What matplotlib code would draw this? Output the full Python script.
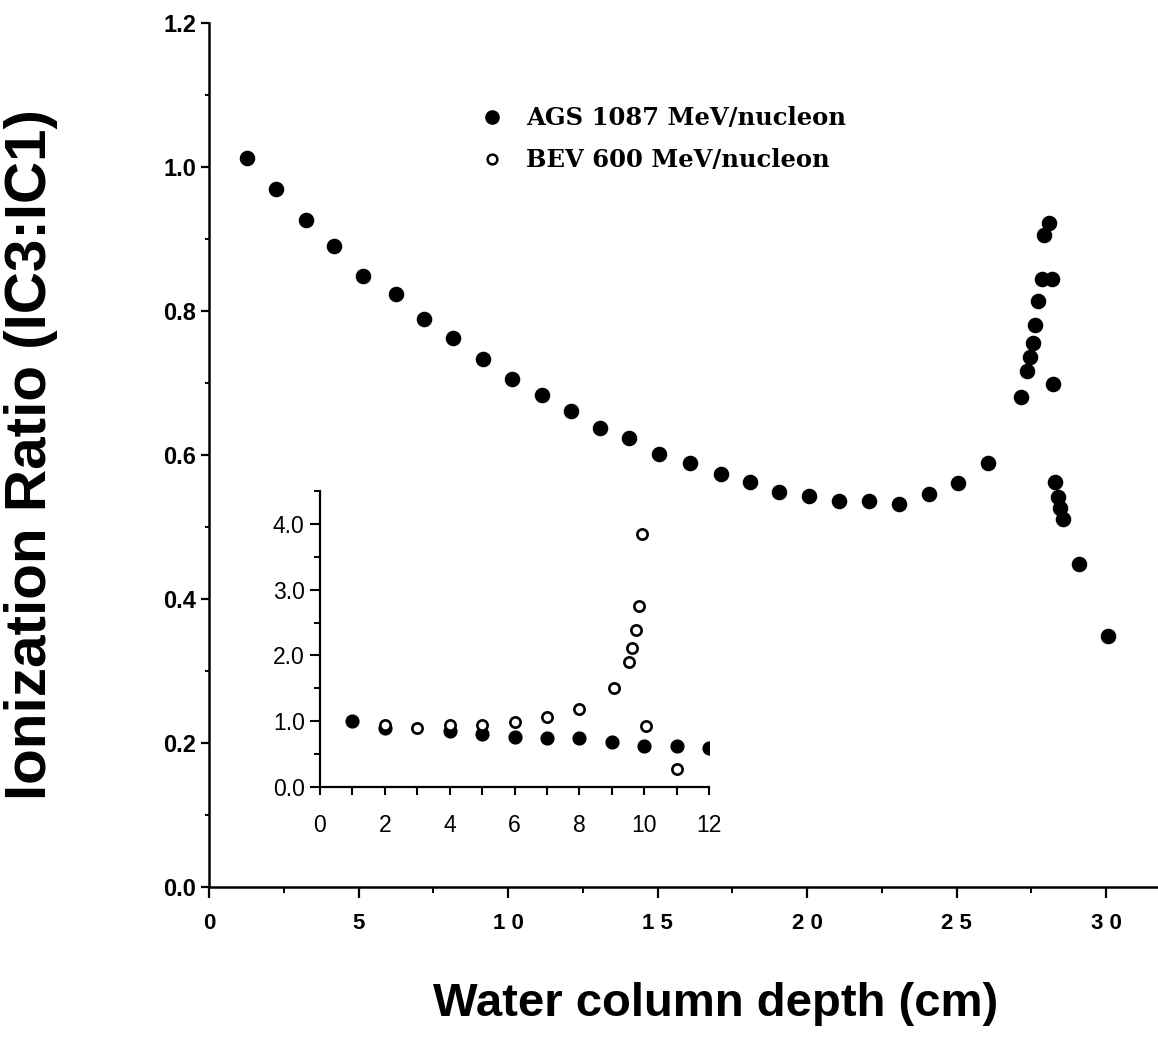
import matplotlib
matplotlib.use("Agg")
import matplotlib.pyplot as plt
from matplotlib.ticker import MultipleLocator
from matplotlib.lines import Line2D

# ---------------- data ----------------
ags_depth = [1.26, 2.24, 3.23, 4.19, 5.16, 6.24, 7.20, 8.17, 9.15, 10.14, 11.15, 12.12,
             13.09, 14.06, 15.05, 16.09, 17.11, 18.09, 19.07, 20.07, 21.07, 22.08, 23.07,
             24.07, 25.06, 26.06, 27.17, 27.37, 27.46, 27.55, 27.63, 27.74, 27.85, 27.93,
             28.10, 28.20, 28.24, 28.30, 28.38, 28.46, 28.56, 29.09, 30.08]
ags_ratio = [1.013, 0.969, 0.927, 0.890, 0.849, 0.823, 0.789, 0.7625, 0.733, 0.706, 0.683,
             0.661, 0.6375, 0.6235, 0.601, 0.589, 0.574, 0.563, 0.548, 0.543, 0.536, 0.536,
             0.532, 0.546, 0.561, 0.589, 0.680, 0.717, 0.736, 0.755, 0.781, 0.814, 0.844,
             0.906, 0.922, 0.844, 0.698, 0.563, 0.541, 0.526, 0.511, 0.449, 0.349]

inset_ags_depth = [1, 2, 4, 5, 6, 7, 8, 9, 10, 11, 12]
inset_ags_ratio = [1.00, 0.90, 0.85, 0.80, 0.76, 0.74, 0.74, 0.69, 0.62, 0.62, 0.59]

inset_bev_depth = [2, 3, 4, 5, 6, 7, 8, 9.07, 9.54, 9.63, 9.75, 9.83, 9.94, 10.07, 11.02]
inset_bev_ratio = [0.94, 0.90, 0.95, 0.95, 0.99, 1.06, 1.18, 1.51, 1.90, 2.11, 2.39, 2.75,
                   3.85, 0.92, 0.28]

main_xticks = [0, 5, 10, 15, 20, 25, 30]
main_xticklabels = ["0", "5", "1 0", "1 5", "2 0", "2 5", "3 0"]
main_yticks = [0.0, 0.2, 0.4, 0.6, 0.8, 1.0, 1.2]
main_yticklabels = ["0.0", "0.2", "0.4", "0.6", "0.8", "1.0", "1.2"]
inset_xticks = [0, 2, 4, 6, 8, 10, 12]
inset_yticks = [0, 1, 2, 3, 4]
inset_yticklabels = ["0.0", "1.0", "2.0", "3.0", "4.0"]

legend_labels = ["AGS 1087 MeV/nucleon", "BEV 600 MeV/nucleon"]
xlabel = "Water column depth (cm)"
ylabel = "Ionization Ratio (IC3:IC1)"

# ---------------- figure ----------------
W, H = 1158, 1048
fig = plt.figure(figsize=(W / 100, H / 100), dpi=100)
fig.patch.set_facecolor("white")

sans = ["Liberation Sans", "DejaVu Sans"]

ax = fig.add_axes([209 / W, 1 - 887 / H, (W - 209) / W, (887 - 23) / H])
ax.set_xlim(0, (W - 209) / 29.9)
ax.set_ylim(0, 1.2)
for s in ["top", "right"]:
    ax.spines[s].set_visible(False)
for s in ["left", "bottom"]:
    ax.spines[s].set_linewidth(1.8)

ax.plot(ags_depth, ags_ratio, "o", color="black", ms=10.2, mec="black", zorder=3)

ax.set_xticks(main_xticks)
ax.set_xticklabels(main_xticklabels, fontsize=16, fontweight="bold", family=sans)
ax.xaxis.set_minor_locator(MultipleLocator(2.5))
ax.set_yticks(main_yticks)
ax.set_yticklabels(main_yticklabels, fontsize=17, fontweight="bold", family=sans)
ax.yaxis.set_minor_locator(MultipleLocator(0.1))
ax.tick_params(axis="x", which="major", direction="out", length=8, width=1.6, pad=11)
ax.tick_params(axis="x", which="minor", direction="out", length=4.5, width=1.4)
ax.tick_params(axis="y", which="major", direction="out", length=6, width=1.6, pad=3)
ax.tick_params(axis="y", which="minor", direction="out", length=3, width=1.4)

ax.set_xlabel(xlabel, fontsize=34, fontweight="bold", family=sans)
ax.xaxis.set_label_coords((716 - 209) / 949, (887 - 982) / 864)
ax.set_ylabel(ylabel, fontsize=42, fontweight="bold", family=sans)
ax.yaxis.set_label_coords((58 - 209) / 949, (887 - 455) / 864)

handles = [
    Line2D([], [], ls="none", marker="o", ms=9.5, color="black", mec="black"),
    Line2D([], [], ls="none", marker="o", ms=7, mfc="white", mec="black", mew=1.8),
]
fig.legend(handles, legend_labels, loc="upper left",
           bbox_to_anchor=(468 / W, 1 - 94 / H), frameon=False, borderpad=0,
           handlelength=1.0, handletextpad=0.9, labelspacing=0.75,
           prop={"family": "DejaVu Serif", "weight": "bold", "size": 17.5})

# ---------------- inset ----------------
axin = fig.add_axes([320 / W, 1 - 787 / H, 389 / W, 296 / H])
axin.set_xlim(0, 12)
axin.set_ylim(0, 4.5)
for s in ["top", "right"]:
    axin.spines[s].set_visible(False)
for s in ["left", "bottom"]:
    axin.spines[s].set_linewidth(1.6)

axin.plot(inset_ags_depth, inset_ags_ratio, "o", color="black", ms=9.2, mec="black", zorder=3)
axin.plot(inset_bev_depth, inset_bev_ratio, "o", ms=7.4, mfc="white", mec="black",
          mew=1.9, zorder=4)

axin.set_xticks(inset_xticks)
axin.set_xticklabels([str(t) for t in inset_xticks], fontsize=16.5, family=sans)
axin.xaxis.set_minor_locator(MultipleLocator(1))
axin.set_yticks(inset_yticks)
axin.set_yticklabels(inset_yticklabels, fontsize=16.5, family=sans)
axin.yaxis.set_minor_locator(MultipleLocator(0.5))
axin.tick_params(axis="x", which="both", direction="out", length=5.5, width=1.5, pad=14)
axin.tick_params(axis="y", which="major", direction="out", length=7, width=1.5, pad=4)
axin.tick_params(axis="y", which="minor", direction="out", length=4, width=1.4)

fig.savefig("out.png", dpi=100, facecolor="white")
